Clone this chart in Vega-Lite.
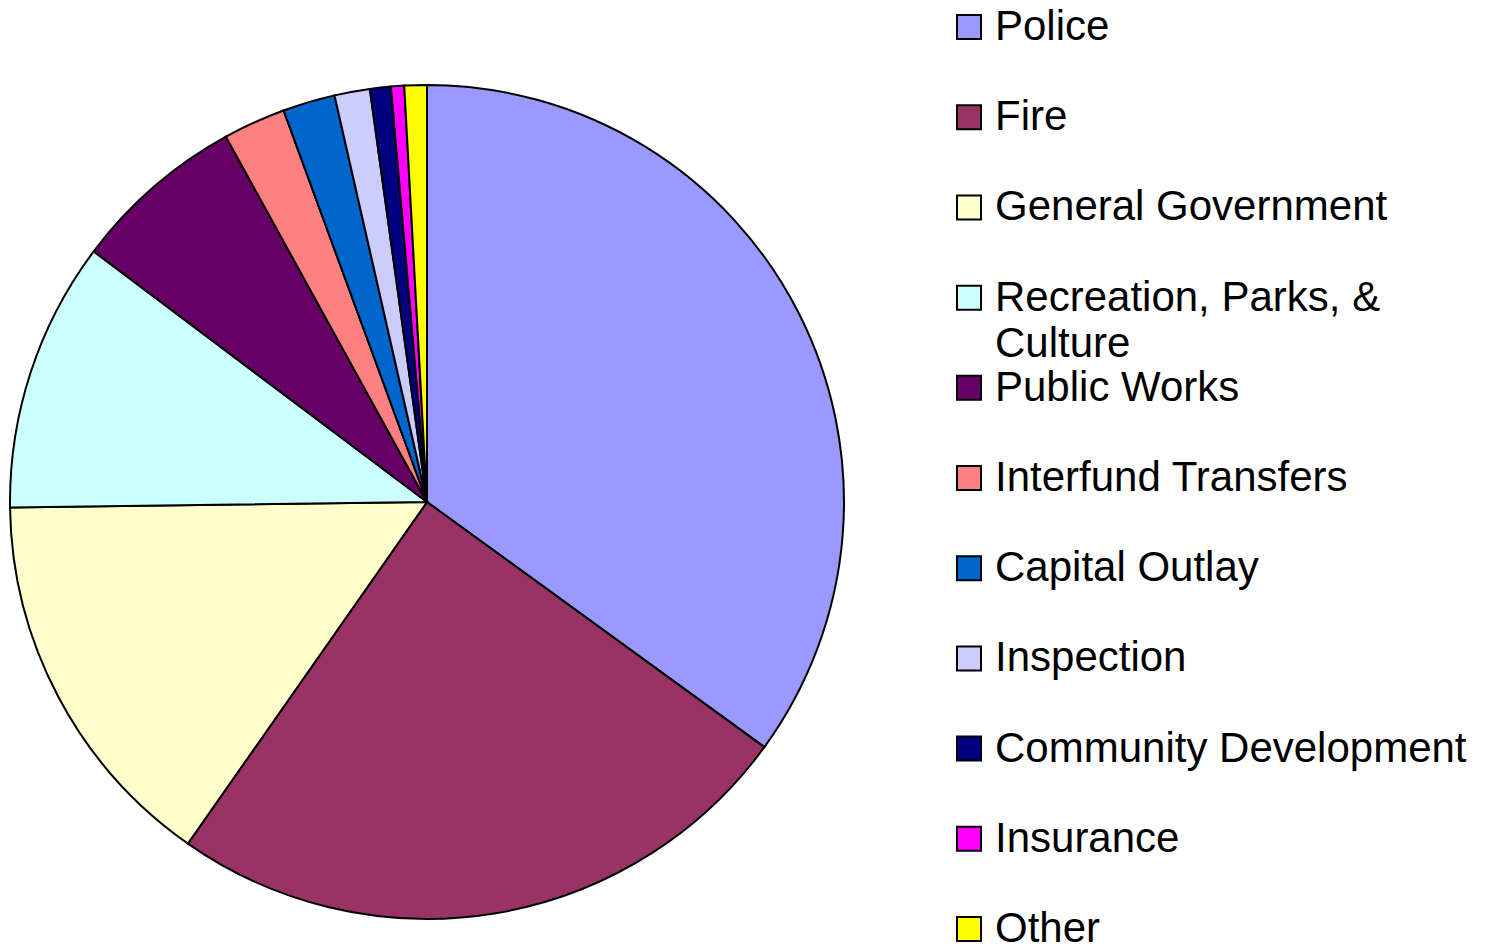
{
  "$schema": "https://vega.github.io/schema/vega-lite/v6.json",
  "padding": {"left": 6, "top": 0, "right": 0, "bottom": 0},
  "background": "white",
  "spacing": 105,
  "config": {"view": {"stroke": null}},
  "data": {
    "values": [
      {"idx": 1, "category": "Police", "label": "Police", "value": 35.0},
      {"idx": 2, "category": "Fire", "label": "Fire", "value": 24.72},
      {"idx": 3, "category": "General Government", "label": "General Government", "value": 15.07},
      {"idx": 4, "category": "Recreation, Parks, & Culture", "label": "Recreation, Parks, &\nCulture", "value": 10.47},
      {"idx": 5, "category": "Public Works", "label": "Public Works", "value": 6.73},
      {"idx": 6, "category": "Interfund Transfers", "label": "Interfund Transfers", "value": 2.42},
      {"idx": 7, "category": "Capital Outlay", "label": "Capital Outlay", "value": 2.03},
      {"idx": 8, "category": "Inspection", "label": "Inspection", "value": 1.37},
      {"idx": 9, "category": "Community Development", "label": "Community Development", "value": 0.81},
      {"idx": 10, "category": "Insurance", "label": "Insurance", "value": 0.51},
      {"idx": 11, "category": "Other", "label": "Other", "value": 0.87}
    ]
  },
  "hconcat": [
    {
      "width": 834,
      "height": 947,
      "mark": {"type": "arc", "stroke": "black", "strokeWidth": 2, "yOffset": 28.5},
      "encoding": {
        "theta": {"field": "value", "type": "quantitative", "stack": true},
        "order": {"field": "idx", "type": "quantitative"},
        "color": {
          "field": "category",
          "type": "nominal",
          "legend": null,
          "scale": {
            "domain": ["Police", "Fire", "General Government", "Recreation, Parks, & Culture", "Public Works", "Interfund Transfers", "Capital Outlay", "Inspection", "Community Development", "Insurance", "Other"],
            "range": ["#9999FF", "#993366", "#FFFFCC", "#CCFFFF", "#660066", "#FF8080", "#0066CC", "#CCCCFF", "#000080", "#FF00FF", "#FFFF00"]
          }
        }
      }
    },
    {
      "width": 24,
      "height": 947,
      "encoding": {
        "y": {
          "field": "category",
          "type": "nominal",
          "axis": null,
          "scale": {
            "type": "point",
            "padding": 0.25,
            "align": 0.6,
            "domain": ["Police", "Fire", "General Government", "Recreation, Parks, & Culture", "Public Works", "Interfund Transfers", "Capital Outlay", "Inspection", "Community Development", "Insurance", "Other"]
          }
        }
      },
      "layer": [
        {
          "mark": {"type": "square", "size": 576, "stroke": "black", "strokeWidth": 2, "opacity": 1, "filled": true},
          "encoding": {
            "color": {
              "field": "category",
              "type": "nominal",
              "legend": null,
              "scale": {
                "domain": ["Police", "Fire", "General Government", "Recreation, Parks, & Culture", "Public Works", "Interfund Transfers", "Capital Outlay", "Inspection", "Community Development", "Insurance", "Other"],
                "range": ["#9999FF", "#993366", "#FFFFCC", "#CCFFFF", "#660066", "#FF8080", "#0066CC", "#CCCCFF", "#000080", "#FF00FF", "#FFFF00"]
              }
            }
          }
        },
        {
          "mark": {"type": "text", "align": "left", "baseline": "alphabetic", "dx": 26, "dy": 13, "font": "Liberation Sans", "fontSize": 42, "lineHeight": 46, "lineBreak": "\n", "color": "black"},
          "encoding": {
            "text": {"field": "label", "type": "nominal"}
          }
        }
      ]
    }
  ]
}
